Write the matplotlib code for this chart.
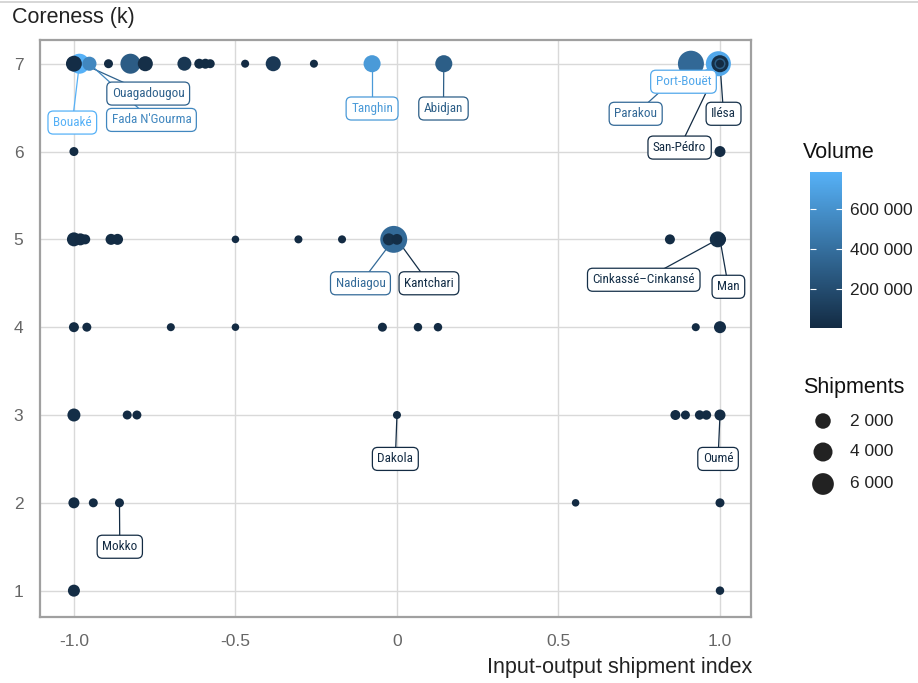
import numpy as np
import matplotlib
matplotlib.use('Agg')
import matplotlib.pyplot as plt
from matplotlib import font_manager
from matplotlib.colors import LinearSegmentedColormap, Normalize
from matplotlib.cm import ScalarMappable
from matplotlib.lines import Line2D

plt.rcParams['font.family'] = ['Liberation Sans', 'DejaVu Sans']
plt.rcParams['axes.unicode_minus'] = False

# data, in drawing order: place, io index, coreness, shipments, volume
place = ['Ouagadougou', 'Bouaké', 'Port-Bouët', 'Tanghin', 'Fada N\'Gourma', 'Parakou',
         'Abidjan', '', '', '', '', '', '', '', '', '', '', '', 'Ilésa', '', 'San-Pédro',
         '', '',
         'Nadiagou', '', 'Kantchari', '', '', '', '', '', '', '', '', '', 'Cinkassé–Cinkansé', 'Man',
         '', '', '', '', '', '', '', '', '',
         '', '', '', 'Dakola', '', '', '', '', 'Oumé',
         '', '', 'Mokko', '', '',
         '', '']
io_index = [-0.975, -0.983, 0.995, -0.077, -0.952, 0.91,
            0.145, -0.825, -1.0, -0.893, -0.779, -0.658, -0.612, -0.593, -0.578, -0.47, -0.383, -0.257, 1.0, 1.0, 1.0,
            -1.0, 1.0,
            -0.01, -0.025, 0.0, -1.0, -0.98, -0.965, -0.885, -0.865, -0.5, -0.305, -0.17, 0.845, 0.993, 1.0,
            -1.0, -0.96, -0.70, -0.5, -0.045, 0.065, 0.127, 0.925, 1.0,
            -1.0, -0.835, -0.805, 0.0, 0.862, 0.893, 0.937, 0.958, 1.0,
            -1.0, -0.94, -0.859, 0.553, 1.0,
            -1.0, 1.0]
coreness = [7, 7, 7, 7, 7, 7,
            7, 7, 7, 7, 7, 7, 7, 7, 7, 7, 7, 7, 7, 7, 7,
            6, 6,
            5, 5, 5, 5, 5, 5, 5, 5, 5, 5, 5, 5, 5, 5,
            4, 4, 4, 4, 4, 4, 4, 4, 4,
            3, 3, 3, 3, 3, 3, 3, 3, 3,
            2, 2, 2, 2, 2,
            1, 1]
shipments = [1000, 4700, 9000, 2800, 1400, 10000,
             2800, 4700, 2200, 110, 1800, 1350, 250, 250, 110, 30, 1800, 30, 2800, 450, 30,
             110, 440,
             11000, 700, 400, 1350, 700, 250, 450, 450, 8, 30, 30, 250, 2200, 700,
             250, 110, 30, 8, 110, 60, 60, 30, 700,
             1000, 110, 110, 30, 250, 110, 170, 170, 450,
             450, 110, 110, 8, 110,
             700, 60]
volume = [320000, 785000, 730000, 650000, 540000, 360000,
          300000, 290000, 15000, 5000, 25000, 70000, 8000, 8000, 6000, 4000, 80000, 3000, 30000, 300000, 5000,
          5000, 10000,
          370000, 40000, 20000, 20000, 10000, 6000, 8000, 8000, 2000, 3000, 3000, 6000, 30000, 15000,
          6000, 4000, 3000, 2000, 4000, 3000, 3000, 3000, 15000,
          20000, 4000, 4000, 3000, 6000, 4000, 5000, 5000, 10000,
          10000, 4000, 4000, 2000, 4000,
          12000, 3000]

# label box positions (data coords)
label_pos = {
    'Bouaké': (-1.005, 6.33), 'Ouagadougou': (-0.77, 6.66), 'Fada N\'Gourma': (-0.76, 6.36),
    'Tanghin': (-0.077, 6.49), 'Abidjan': (0.144, 6.49), 'Port-Bouët': (0.887, 6.795),
    'Parakou': (0.739, 6.43), 'Ilésa': (1.011, 6.43), 'San-Pédro': (0.875, 6.045),
    'Nadiagou': (-0.113, 4.50), 'Kantchari': (0.099, 4.50),
    'Cinkassé–Cinkansé': (0.764, 4.54), 'Man': (1.026, 4.46),
    'Dakola': (-0.005, 2.50), 'Oumé': (0.994, 2.50), 'Mokko': (-0.858, 1.50),
}

DPI = 100


def marker_area(n):
    d_px = 7 + 0.19 * np.sqrt(np.asarray(n, dtype=float))
    return (d_px * 72 / DPI) ** 2


label_font, label_size = 'Liberation Sans', 8
for fam, sz in [('Liberation Sans Narrow', 9.5), ('Roboto Condensed', 9.5), ('Open Sans Condensed', 9.5)]:
    try:
        font_manager.findfont(font_manager.FontProperties(family=fam), fallback_to_default=False)
        label_font, label_size = fam, sz
        break
    except Exception:
        pass

cmap = LinearSegmentedColormap.from_list('gg', ['#132B43', '#56B1F7'])
norm = Normalize(vmin=min(volume), vmax=max(volume))
colors = [cmap(norm(v)) for v in volume]

fig = plt.figure(figsize=(9.18, 6.83), dpi=DPI)
ax = fig.add_axes([40 / 918, 66 / 683, 711 / 918, 577 / 683])

ax.scatter(io_index, coreness, s=marker_area(shipments), c=colors, linewidths=0, zorder=3)

for name, (lx, ly) in label_pos.items():
    i = place.index(name)
    col = colors[i]
    ax.plot([io_index[i], lx], [coreness[i], ly], color=col, lw=0.9, zorder=2)
    ax.text(lx, ly, name, ha='center', va='center', color=col, fontsize=label_size,
            family=label_font, zorder=6,
            bbox=dict(boxstyle='round,pad=0.38,rounding_size=0.4', fc='white', ec=col, lw=0.9))

ax.set_xlim(-1.105, 1.096)
ax.set_ylim(0.70, 7.27)
ax.set_xticks([-1.0, -0.5, 0, 0.5, 1.0])
ax.set_xticklabels(['-1.0', '-0.5', '0', '0.5', '1.0'])
ax.set_yticks(range(1, 8))
ax.tick_params(length=0, labelsize=12.5, labelcolor='#666666', pad=12)
ax.grid(True, color='#d9d9d9', lw=1.0)
ax.set_axisbelow(True)
for sp in ax.spines.values():
    sp.set_color('#a0a0a0')
    sp.set_linewidth(1.6)

fig.text(12 / 918, 1 - 18 / 683, 'Coreness (k)', fontsize=15.5, ha='left', va='center', color='#222222')
fig.text(752 / 918, 1 - 668 / 683, 'Input-output shipment index', fontsize=15.5,
         ha='right', va='center', color='#222222')

# colour bar
cax = fig.add_axes([810 / 918, (683 - 328) / 683, 32 / 918, 156 / 683])
cb = fig.colorbar(ScalarMappable(norm=norm, cmap=cmap), cax=cax)
cb.outline.set_visible(False)
cb.set_ticks([200000, 400000, 600000])
cb.set_ticklabels(['200 000', '400 000', '600 000'])
cax.tick_params(left=True, right=True, direction='in', color='white', length=4, width=0.8,
                labelsize=12.5, labelcolor='#222222', pad=6)
fig.text(803 / 918, 1 - 152 / 683, 'Volume', fontsize=15.5, ha='left', va='center', color='#111111')

# size legend
leg = fig.add_axes([0, 0, 1, 1])
leg.set_xlim(0, 918)
leg.set_ylim(683, 0)
leg.axis('off')
size_breaks = [2000, 4000, 6000]
size_y = [421, 452, 484]
leg.scatter([823] * 3, size_y, s=marker_area(size_breaks), color='#222222', linewidths=0)
for b, yy in zip(size_breaks, size_y):
    leg.text(850, yy, f'{b:,}'.replace(',', ' '), fontsize=12.5, ha='left', va='center', color='#222222')
fig.text(803 / 918, 1 - 388 / 683, 'Shipments', fontsize=15.5, ha='left', va='center', color='#111111')

fig.add_artist(Line2D([0, 1], [1 - 1.5 / 683, 1 - 1.5 / 683], color='#cfcfcf', lw=1.2))

fig.savefig('out.png', dpi=DPI)
